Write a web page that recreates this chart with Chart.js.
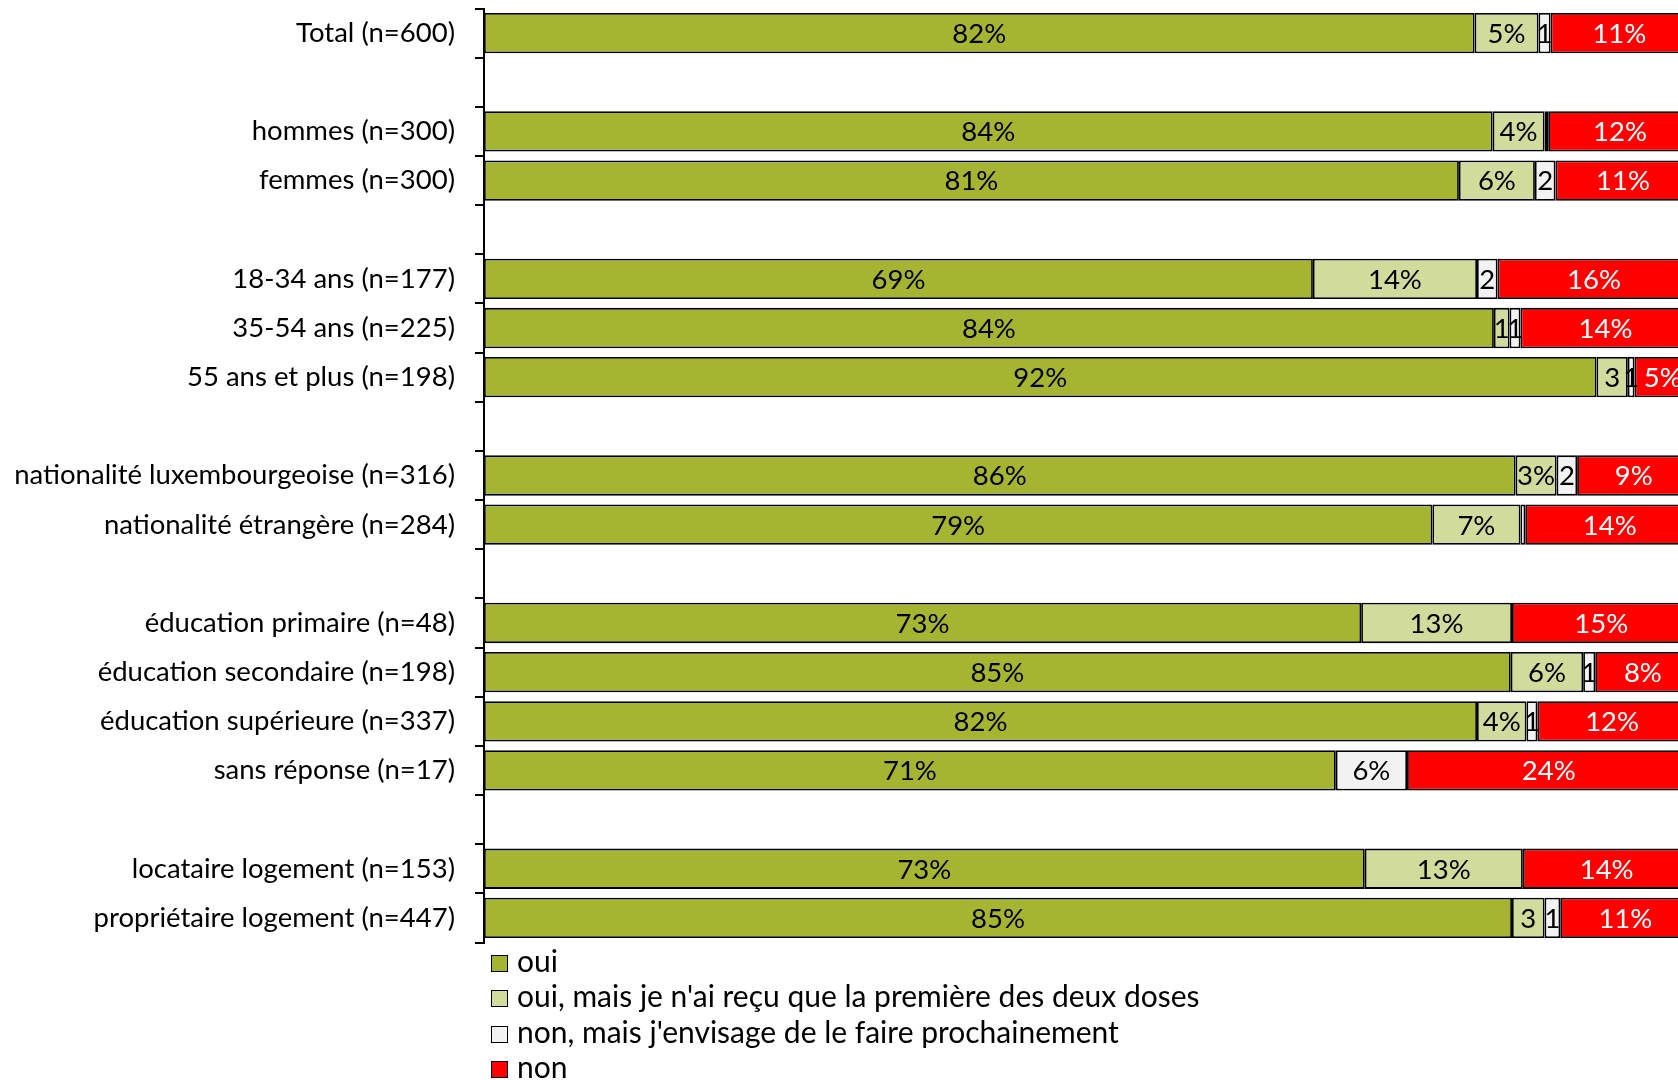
<!DOCTYPE html>
<html>
<head>
<meta charset="utf-8">
<script src="https://cdn.jsdelivr.net/npm/chart.js@4.4.1/dist/chart.umd.min.js"></script>
<style>
  html, body { margin: 0; padding: 0; background: #fff; }
  #wrap { position: relative; width: 1678px; height: 1080px; overflow: hidden; }
  #legend { position: absolute; left: 491px; top: 943px; font-family: Lato, sans-serif; font-size: 30px; color: #000; }
  #legend div { height: 35.3px; line-height: 35px; white-space: nowrap; }
  #legend span.box { display: inline-block; width: 15px; height: 15px; border: 1.5px solid #000; margin-right: 9px; vertical-align: 0px; }
</style>
</head>
<body>
<div id="wrap">
  <canvas id="chart" width="1678" height="1080"></canvas>
  <div id="legend"></div>
</div>
<script>
// lignes du graphique (les "" sont des lignes vides entre les groupes)
const categories = [
  "Total (n=600)", "",
  "hommes (n=300)", "femmes (n=300)", "",
  "18-34 ans (n=177)", "35-54 ans (n=225)", "55 ans et plus (n=198)", "",
  "nationalité luxembourgeoise (n=316)", "nationalité étrangère (n=284)", "",
  "éducation primaire (n=48)", "éducation secondaire (n=198)", "éducation supérieure (n=337)", "sans réponse (n=17)", "",
  "locataire logement (n=153)", "propriétaire logement (n=447)"
];

const seriesNames = [
  "oui",
  "oui, mais je n'ai reçu que la première des deux doses",
  "non, mais j'envisage de le faire prochainement",
  "non"
];

// % par ligne
const oui       = [82.1, null, 83.6, 80.8, null, 68.7, 83.7, 92.2, null, 85.5, 78.6, null, 72.7, 85.1, 82.3, 70.6, null, 73.0, 85.2];
const premiere  = [5.3, null, 4.3, 6.3, null, 13.6, 1.3, 2.6, null, 3.4, 7.3, null, 12.5, 6.0, 4.1, null, null, 13.1, 2.7];
const envisage  = [1.0, null, 0.3, 1.7, null, 1.7, 0.9, 0.55, null, 1.7, 0.4, null, null, 1.0, 0.9, 5.9, null, null, 1.3];
const non       = [11.4, null, 11.9, 11.2, null, 16.0, 14.1, 4.7, null, 9.4, 14.0, null, 14.8, 7.9, 12.4, 23.5, null, 13.9, 10.8];

const colors = ["#A5B531", "#D1DB9B", "#F2F2F2", "#FF0000"];
const labelColors = ["#000", "#000", "#000", "#fff"];
const FONT = "Lato, sans-serif";

// étiquettes de valeur au centre de chaque segment
const barLabels = {
  id: "barLabels",
  afterDatasetsDraw(chart) {
    const ctx = chart.ctx;
    ctx.save();
    ctx.font = "27.5px " + FONT;
    ctx.textAlign = "center";
    ctx.textBaseline = "middle";
    chart.data.datasets.forEach((ds, i) => {
      const meta = chart.getDatasetMeta(i);
      meta.data.forEach((bar, j) => {
        const v = ds.data[j];
        if (v == null) return;
        const r = Math.round(v);
        if (r === 0) return;
        const w = Math.abs(bar.x - bar.base);
        let txt = r + "%";
        if (ctx.measureText(txt).width > w) txt = String(r);
        ctx.fillStyle = labelColors[i];
        ctx.fillText(txt, (bar.x + bar.base) / 2, bar.y + 1);
      });
    });
    ctx.restore();
  }
};

const chart = new Chart(document.getElementById("chart"), {
  type: "bar",
  data: {
    labels: categories,
    datasets: [oui, premiere, envisage, non].map((d, i) => ({
      label: seriesNames[i],
      data: d,
      backgroundColor: colors[i],
      borderColor: "#000",
      borderWidth: 1.8,
      borderSkipped: false,
      barPercentage: 0.82,
      categoryPercentage: 1
    }))
  },
  options: {
    indexAxis: "y",
    responsive: false,
    animation: false,
    layout: { padding: { top: 8.5, bottom: 137.5, left: 0, right: 0 } },
    plugins: {
      legend: { display: false },
      tooltip: { enabled: false }
    },
    scales: {
      x: {
        stacked: true,
        display: false,
        min: 0,
        max: 98.96
      },
      y: {
        stacked: true,
        afterFit: (s) => {
          s.width = 484;
          s.paddingTop = 0;
          s.paddingBottom = 0;
        },
        border: { display: true, color: "#000", width: 2 },
        grid: {
          drawOnChartArea: false,
          drawTicks: true,
          tickLength: 9,
          color: "#000",
          lineWidth: 2
        },
        ticks: {
          color: "#000",
          padding: 20,
          autoSkip: false,
          font: { family: FONT, size: 27.5 }
        }
      }
    }
  },
  plugins: [barLabels]
});

// légende verticale en bas à gauche
const legendEl = document.getElementById("legend");
chart.data.datasets.forEach((ds) => {
  const row = document.createElement("div");
  const box = document.createElement("span");
  box.className = "box";
  box.style.background = ds.backgroundColor;
  row.appendChild(box);
  row.appendChild(document.createTextNode(ds.label));
  legendEl.appendChild(row);
});
</script>
</body>
</html>
